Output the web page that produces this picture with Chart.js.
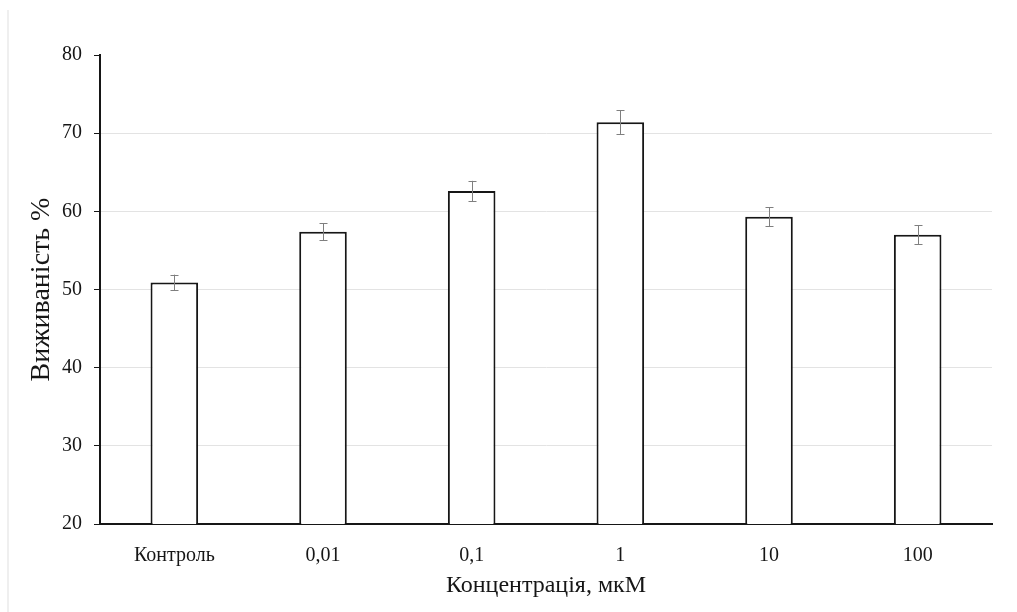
<!DOCTYPE html>
<html>
<head>
<meta charset="utf-8">
<script src="https://cdn.jsdelivr.net/npm/chart.js@4.4.1/dist/chart.umd.min.js"></script>
<style>
  html, body { margin: 0; padding: 0; background: #fff; }
  #wrap { width: 1017px; height: 612px; position: relative; }
</style>
</head>
<body>
<div id="wrap"><canvas id="chart" width="1017" height="612"></canvas></div>
<script>
const categories = ['Контроль', '0,01', '0,1', '1', '10', '100'];
const survival = [50.9, 57.4, 62.6, 71.4, 59.3, 57.0];
const errors = [1.0, 1.1, 1.3, 1.5, 1.2, 1.2];
const yTicks = [20, 30, 40, 50, 60, 70, 80];

const serif = '"Liberation Serif", "DejaVu Serif", serif';
const ink = '#161616';

// faint frame line on the left edge of the figure
const frame = {
  id: 'frame',
  beforeDraw(chart) {
    const ctx = chart.ctx;
    ctx.save();
    ctx.strokeStyle = '#efefef';
    ctx.lineWidth = 2;
    ctx.beginPath();
    ctx.moveTo(8, 10);
    ctx.lineTo(8, 612);
    ctx.stroke();
    ctx.restore();
  }
};

// draws the error whiskers over each bar
const errorBars = {
  id: 'errorBars',
  afterDatasetsDraw(chart) {
    const ctx = chart.ctx;
    const meta = chart.getDatasetMeta(0);
    const y = chart.scales.y;
    ctx.save();
    ctx.strokeStyle = '#7f7f7f';
    ctx.lineWidth = 1;
    meta.data.forEach((bar, i) => {
      const v = survival[i];
      const top = y.getPixelForValue(v + errors[i]);
      const bot = y.getPixelForValue(v - errors[i]);
      const x = Math.round(bar.x) + 0.5;
      ctx.beginPath();
      ctx.moveTo(x, top);
      ctx.lineTo(x, bot);
      ctx.moveTo(x - 4, Math.round(top) + 0.5);
      ctx.lineTo(x + 4, Math.round(top) + 0.5);
      ctx.moveTo(x - 4, Math.round(bot) + 0.5);
      ctx.lineTo(x + 4, Math.round(bot) + 0.5);
      ctx.stroke();
    });
    ctx.restore();
  }
};

new Chart(document.getElementById('chart').getContext('2d'), {
  type: 'bar',
  data: {
    labels: categories,
    datasets: [{
      data: survival,
      backgroundColor: '#ffffff',
      borderColor: ink,
      borderWidth: 2,
      borderSkipped: 'bottom',
      barPercentage: 0.32,
      categoryPercentage: 1.0
    }]
  },
  options: {
    responsive: false,
    animation: false,
    layout: { padding: { top: 55, right: 25, left: 0, bottom: 0 } },
    plugins: {
      legend: { display: false },
      tooltip: { enabled: false }
    },
    scales: {
      x: {
        grid: { display: false },
        border: { color: ink, width: 2 },
        ticks: {
          color: ink,
          font: { family: serif, size: 20 },
          padding: 12
        },
        title: {
          display: true,
          text: 'Концентрація, мкМ',
          color: ink,
          font: { family: serif, size: 24 },
          padding: { top: 0, bottom: 12 }
        },
        afterFit(scale) { scale.height = 88; }
      },
      y: {
        min: 20,
        max: 80,
        afterBuildTicks(scale) { scale.ticks = yTicks.map(v => ({ value: v })); },
        grid: {
          color: ctx => (ctx.tick && (ctx.tick.value === 80 || ctx.tick.value === 20)) ? 'rgba(0,0,0,0)' : '#e3e3e3',
          tickColor: ink,
          tickLength: 6,
          lineWidth: 1
        },
        border: { color: ink, width: 2 },
        ticks: {
          color: ink,
          font: { family: serif, size: 20 },
          padding: 12
        },
        title: {
          display: true,
          text: 'Виживаність %',
          color: ink,
          font: { family: serif, size: 28 },
          padding: { top: 25, bottom: 0 }
        },
        afterFit(scale) { scale.width = 100; }
      }
    }
  },
  plugins: [frame, errorBars]
});
</script>
</body>
</html>
